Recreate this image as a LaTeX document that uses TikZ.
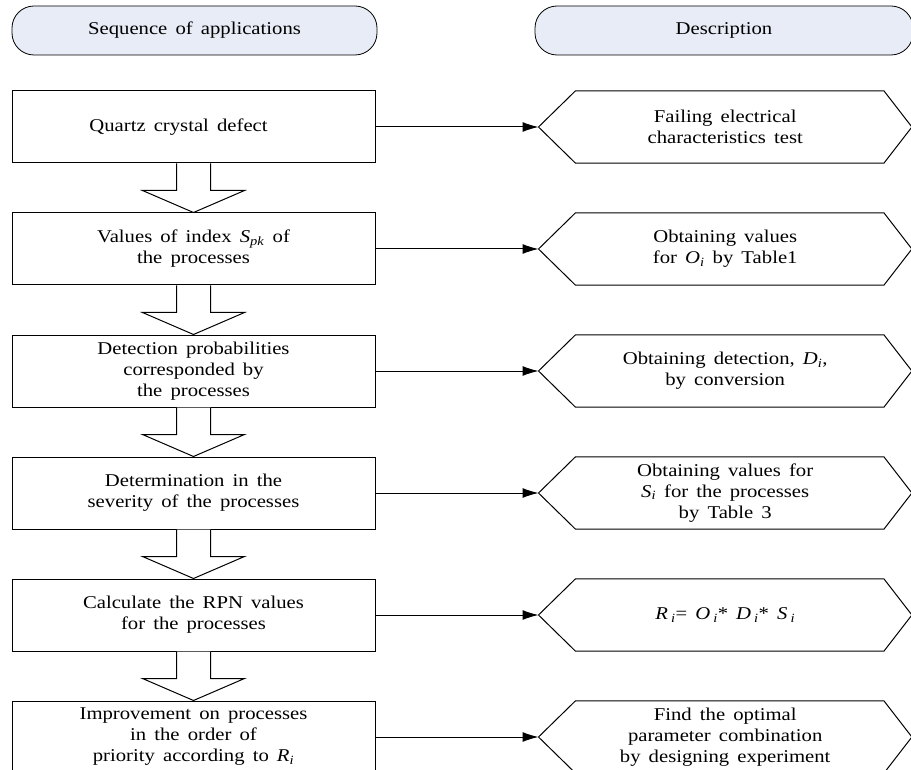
\documentclass[tikz,border=0pt]{standalone}
\usepackage{fontspec}
\setmainfont{Liberation Serif}[FakeStretch=1.15]
\usetikzlibrary{positioning,calc,arrows.meta}

\definecolor{headblue}{RGB}{231,236,246}
\newcommand{\subi}[2]{\textit{#1}\textsubscript{\textit{#2}}}
\newcommand{\chartfont}{\fontsize{18}{21}\selectfont\spaceskip=0.45em plus 0.1em\relax}

\tikzset{
  stepbox/.style={draw, line width=1pt, minimum width=363pt, minimum height=72pt, align=center, inner sep=2pt},
  descbox/.style={minimum width=373pt, minimum height=72pt, align=center, inner sep=2pt},
  headbox/.style={draw, fill=headblue, rounded corners=22pt, minimum height=49pt, line width=0.8pt},
  link/.style={-{Latex[length=16pt,width=10pt]}, line width=1pt},
}

\begin{document}
\begin{tikzpicture}[x=1pt,y=-1pt,font=\chartfont]
  \clip (0,0) rectangle (911,770);

  % headers
  \node[headbox, minimum width=365pt] (hseq) at (194.5,30.5) {Sequence of applications};
  \node[headbox, minimum width=378pt] (hdesc) at (724,30.5) {Description};

  % sequence of applications
  \node[stepbox] (b1) at (193.5,127) {Quartz crystal defect\hspace{30pt}};
  \node[stepbox, below=49pt of b1] (b2) {Values of index \subi{S}{pk} of\hspace{30pt}\\the processes\hspace{30pt}};
  \node[stepbox, below=49pt of b2] (b3) {Detection probabilities\hspace{20pt}\\corresponded by\hspace{20pt}\\the processes\hspace{20pt}};
  \node[stepbox, below=49pt of b3] (b4) {Determination in the\hspace{20pt}\\severity of the processes\hspace{20pt}};
  \node[stepbox, below=49pt of b4] (b5) {Calculate the RPN values\hspace{10pt}\\for the processes\hspace{10pt}};
  \node[stepbox, below=49pt of b5] (b6) {Improvement on processes\hspace{30pt}\\in the order of\hspace{30pt}\\priority according to \subi{R}{i}\hspace{30pt}};

  % descriptions
  \node[descbox, right=163pt of b1] (d1) {Failing electrical\\characteristics test};
  \node[descbox, right=163pt of b2] (d2) {Obtaining values\\for \subi{O}{i} by Table1};
  \node[descbox, right=163pt of b3] (d3) {Obtaining detection, \subi{D}{i},\\by conversion};
  \node[descbox, right=163pt of b4] (d4) {Obtaining values for\\\subi{S}{i} for the processes\\by Table 3};
  \node[descbox, right=163pt of b5] (d5) {\textit{R}\,\textsubscript{\textit{i}}= \textit{O}\,\textsubscript{\textit{i}}* \textit{D}\,\textsubscript{\textit{i}}* \textit{S}\,\textsubscript{\textit{i}}};
  \node[descbox, right=163pt of b6] (d6) {Find the optimal\\parameter combination\\by designing experiment};

  % hexagon outlines and links
  \foreach \i in {1,...,6} {
    \draw[line width=1pt] (d\i.west) -- ($(d\i.north west)+(37,0)$) -- ($(d\i.north east)+(-28,0)$)
      -- (d\i.east) -- ($(d\i.south east)+(-28,0)$) -- ($(d\i.south west)+(37,0)$) -- cycle;
    \draw[link] (b\i) -- (d\i);
  }

  % block arrows between steps
  \foreach \i [count=\j from 2] in {1,...,5} {
    \draw[line width=1pt, fill=white] ($(b\i.south)+(-17,0)$) -- ($(b\i.south)+(-17,27)$)
      -- ($(b\i.south)+(-51,27)$) -- (b\j.north) -- ($(b\i.south)+(51,27)$)
      -- ($(b\i.south)+(17,27)$) -- ($(b\i.south)+(17,0)$);
  }
\end{tikzpicture}
\end{document}
